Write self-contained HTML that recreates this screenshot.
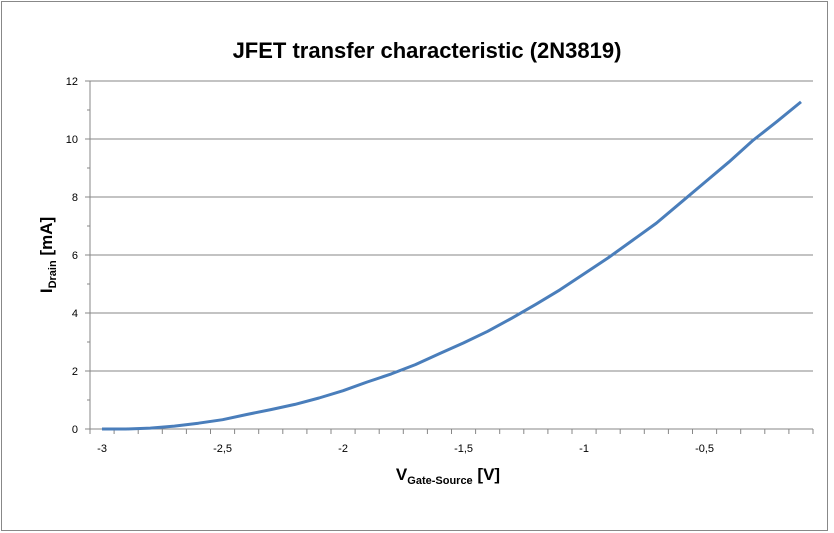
<!DOCTYPE html>
<html><head><meta charset="utf-8"><style>
body{margin:0;background:#fff;}
svg{display:block;font-family:"Liberation Sans",sans-serif;}
</style></head><body>
<svg id="c" width="834" height="533">
<rect x="1.5" y="1.5" width="826" height="529" fill="#fff" stroke="#888"/>
<text x="427" y="58" text-anchor="middle" font-size="22" font-weight="bold" fill="#000">JFET transfer characteristic (2N3819)</text>
<text transform="translate(52,255) rotate(-90)" text-anchor="middle" font-size="17" font-weight="bold">I<tspan font-size="11" dy="4">Drain</tspan><tspan dy="-4"> [mA]</tspan></text>
<text x="448" y="480" text-anchor="middle" font-size="17" font-weight="bold">V<tspan font-size="11" dy="4">Gate-Source</tspan><tspan dy="-4"> [V]</tspan></text>
<g id="grid"></g><g id="axes"></g><g id="series"></g>
</svg>
<script>
const categories=[-3,-2.9,-2.8,-2.7,-2.6,-2.5,-2.4,-2.3,-2.2,-2.1,-2,-1.9,-1.8,-1.7,-1.6,-1.5,-1.4,-1.3,-1.2,-1.1,-1,-0.9,-0.8,-0.7,-0.6,-0.5,-0.4,-0.3,-0.2,-0.1];
const drainCurrent=[0,0,0.03,0.1,0.2,0.32,0.5,0.67,0.85,1.07,1.32,1.62,1.9,2.22,2.6,2.97,3.37,3.82,4.3,4.8,5.35,5.9,6.5,7.1,7.8,8.5,9.2,9.95,10.6,11.28];
const yTicks=[0,2,4,6,8,10,12];
const xTickLabels=["-3","-2,5","-2","-1,5","-1","-0,5"];
const NS="http://www.w3.org/2000/svg";
const X0=90,X1=813,Y0=429,Y1=81;
const bw=(X1-X0)/categories.length;
const xs=i=>X0+bw*(i+0.5);
const ys=v=>Y0-(v/12)*(Y0-Y1);
function mk(t,a,p){const e=document.createElementNS(NS,t);for(const k in a)e.setAttribute(k,a[k]);p.appendChild(e);return e;}
const grid=document.getElementById('grid'),axes=document.getElementById('axes'),ser=document.getElementById('series');
yTicks.forEach(v=>{
  if(v>0){const g=mk('line',{x1:X0,x2:X1,y1:ys(v),y2:ys(v),stroke:'#878787','stroke-width':1},grid);
  
  }
  const t=mk('text',{x:X0-12,y:ys(v)+4,'text-anchor':'end','font-size':11},axes);t.textContent=v;
  
  
  mk('line',{x1:X0-5,x2:X0,y1:ys(v),y2:ys(v),stroke:'#878787'},axes);
  if(v<12){mk('line',{x1:X0-3,x2:X0,y1:ys(v+1),y2:ys(v+1),stroke:'#878787'},axes);}
});
mk('line',{x1:X0,x2:X0,y1:Y1,y2:Y0,stroke:'#878787'},axes);
mk('line',{x1:X0,x2:X1,y1:Y0,y2:Y0,stroke:'#878787'},axes);
for(let i=0;i<=categories.length;i++){mk('line',{x1:X0+bw*i,x2:X0+bw*i,y1:Y0,y2:Y0+5,stroke:'#878787'},axes);}
xTickLabels.forEach((l,k)=>{
  const t=mk('text',{x:xs(k*5),y:Y0+23,'text-anchor':'middle','font-size':11},axes);t.textContent=l;
  
  
});
const pts=drainCurrent.map((v,i)=>xs(i).toFixed(1)+','+ys(v).toFixed(1)).join(' ');
const pl=mk('polyline',{points:pts,fill:'none',stroke:'#4a7ebb','stroke-width':3,'stroke-linejoin':'round'},ser);


</script>
</body></html>
